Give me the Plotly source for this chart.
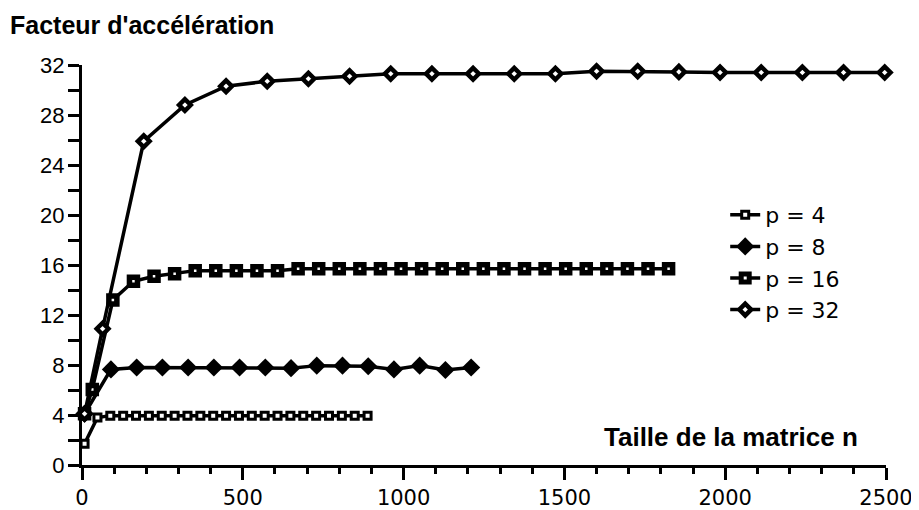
import plotly.graph_objects as go

# ---- data ----
p4_n = [8, 48, 88, 128, 168, 208, 248, 288, 328, 368, 408, 448, 488, 528, 568,
        608, 648, 688, 728, 768, 808, 848, 888]
p4_s = [1.7, 3.8, 3.95, 3.95, 3.95, 3.95, 3.95, 3.95, 3.95, 3.95, 3.95, 3.95,
        3.95, 3.95, 3.95, 3.95, 3.95, 3.95, 3.95, 3.95, 3.95, 3.95, 3.95]

p8_n = [8, 90, 170, 250, 330, 410, 490, 570, 650, 730, 810, 890, 970, 1050,
        1130, 1210]
p8_s = [4.1, 7.65, 7.8, 7.8, 7.8, 7.8, 7.8, 7.8, 7.75, 7.95, 7.95, 7.9, 7.65,
        7.95, 7.6, 7.8]

p16_n = [8, 32, 96, 160, 224, 288, 352, 416, 480, 544, 608, 672, 736, 800, 864,
         928, 992, 1056, 1120, 1184, 1248, 1312, 1376, 1440, 1504, 1568, 1632,
         1696, 1760, 1824]
p16_s = [4.1, 6.05, 13.2, 14.7, 15.1, 15.3, 15.55, 15.55, 15.55, 15.55, 15.55,
         15.7, 15.7, 15.7, 15.7, 15.7, 15.7, 15.7, 15.7, 15.7, 15.7, 15.7, 15.7,
         15.7, 15.7, 15.7, 15.7, 15.7, 15.7, 15.7]

p32_n = [8, 64, 192, 320, 448, 576, 704, 832, 960, 1088, 1216, 1344, 1472, 1600,
         1728, 1856, 1984, 2112, 2240, 2368, 2496]
p32_s = [4.1, 10.9, 25.9, 28.8, 30.3, 30.7, 30.9, 31.1, 31.3, 31.3, 31.3, 31.3,
         31.3, 31.5, 31.5, 31.45, 31.4, 31.4, 31.4, 31.4, 31.4]

series_names = ["p = 4", "p = 8", "p = 16", "p = 32"]
x_tick_vals = [0, 500, 1000, 1500, 2000, 2500]
y_tick_vals = [0, 4, 8, 12, 16, 20, 24, 28, 32]
y_title = "Facteur d'accélération"
x_title = "Taille de la matrice n"

# ---- styles ----
styles = [
    dict(symbol="square", size=7, color="white", line=dict(color="black", width=3)),
    dict(symbol="diamond", size=14, color="black", line=dict(color="black", width=0)),
    dict(symbol="square", size=8, color="white", line=dict(color="black", width=5.5)),
    dict(symbol="diamond", size=9, color="white", line=dict(color="black", width=4.5)),
]

fig = go.Figure()
for name, xs, ys, st in zip(series_names, [p4_n, p8_n, p16_n, p32_n],
                            [p4_s, p8_s, p16_s, p32_s], styles):
    fig.add_trace(go.Scatter(
        x=xs, y=ys, name=name, mode="lines+markers",
        line=dict(color="black", width=3.5),
        marker=st, cliponaxis=False, legendgroup=name,
    ))

# the page body adds an 8 px offset, so the figure is 911x502
fig.update_layout(
    width=911, height=502,
    margin=dict(l=74, r=33, t=57, b=45, autoexpand=False),
    paper_bgcolor="white", plot_bgcolor="white",
    showlegend=True,
    legend=dict(
        x=0.80, y=0.6775, xanchor="left", yanchor="top",
        font=dict(family="DejaVu Sans", size=22, color="black"),
        bgcolor="rgba(0,0,0,0)", borderwidth=0,
        tracegroupgap=0,
    ),
    font=dict(family="Liberation Sans", color="black"),
)

fig.update_xaxes(
    range=[0, 2500], tickvals=x_tick_vals, automargin=False,
    ticks="outside", ticklen=12, tickwidth=2.5, tickcolor="black",
    minor=dict(dtick=100, ticks="outside", ticklen=6, tickwidth=2.5, tickcolor="black"),
    showline=True, linecolor="black", linewidth=3,
    showgrid=False, zeroline=False,
    tickfont=dict(family="DejaVu Sans", size=21, color="black"),
    ticklabelstandoff=0,
)
fig.update_yaxes(
    range=[0, 32], tickvals=y_tick_vals, automargin=False,
    ticks="outside", ticklen=11, tickwidth=2.5, tickcolor="black",
    minor=dict(dtick=2, ticks="outside", ticklen=11, tickwidth=2.5, tickcolor="black"),
    showline=True, linecolor="black", linewidth=3,
    showgrid=False, zeroline=False,
    tickfont=dict(family="Liberation Sans", size=22, color="black"),
    ticklabelstandoff=-1,
)

fig.add_annotation(
    text="<b>" + y_title + "</b>", xref="paper", yref="paper",
    x=-0.092, y=1.1, xanchor="left", yanchor="middle", showarrow=False,
    font=dict(family="Liberation Sans", size=25, color="black"),
)
fig.add_annotation(
    text="<b>" + x_title + "</b>", xref="x", yref="y",
    x=2420, y=2.25, xanchor="right", yanchor="middle", showarrow=False,
    font=dict(family="Liberation Sans", size=26, color="black"),
)

fig.write_html("out.html")
